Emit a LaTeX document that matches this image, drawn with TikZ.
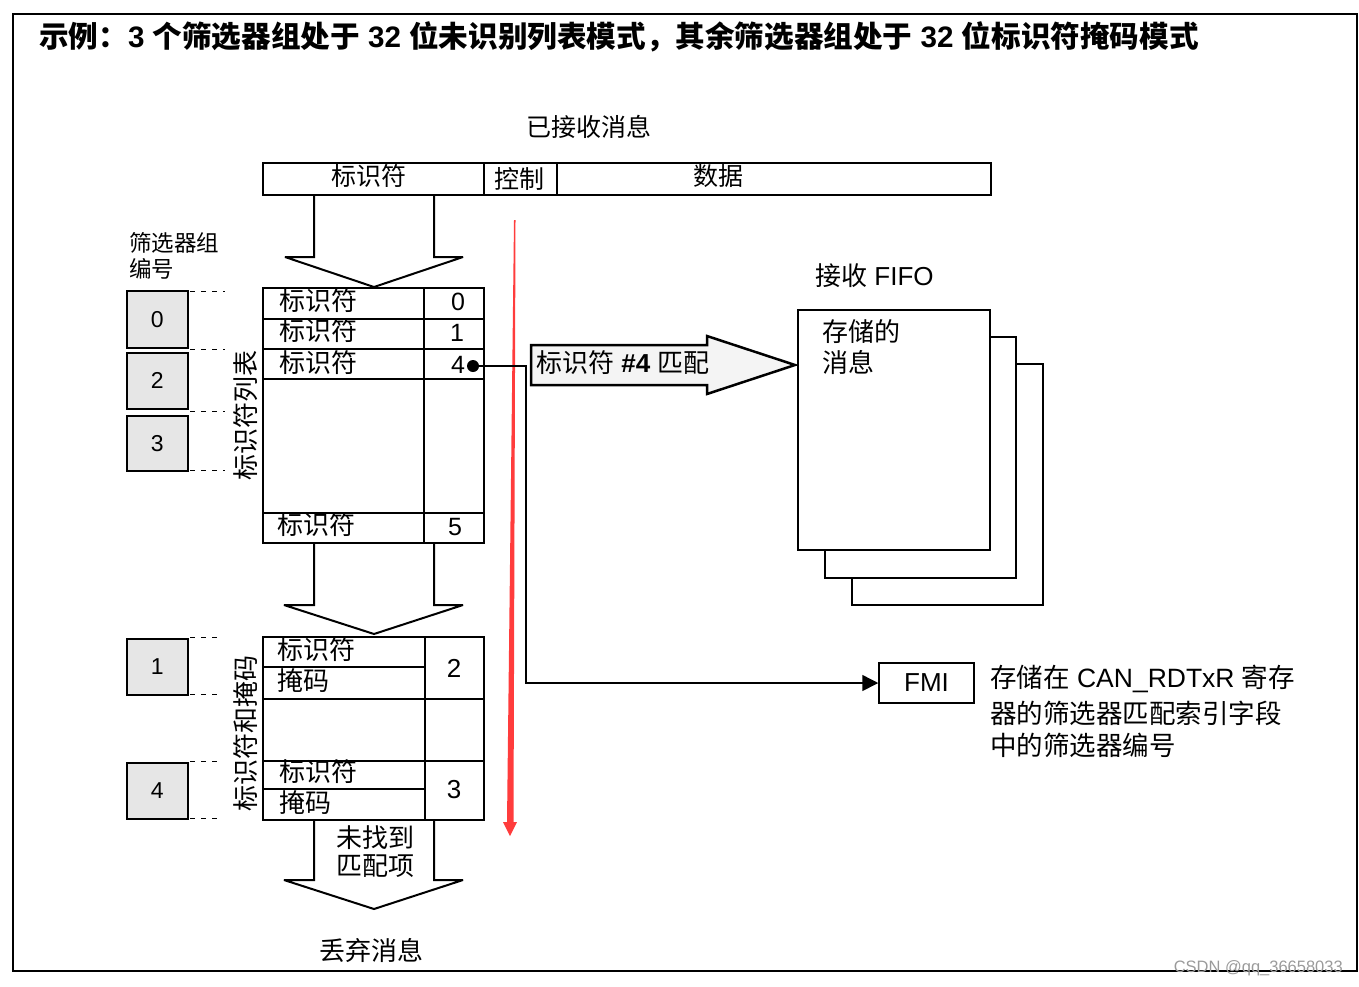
\documentclass[tikz,border=0pt]{standalone}
\usepackage{fontspec}
\setmainfont{Liberation Sans}
\newfontfamily\cjk{Noto Sans CJK SC}
\newcommand{\zh}[1]{{\cjk #1}}
\usetikzlibrary{arrows.meta}
\definecolor{boxgray}{HTML}{E6E6E6}
\definecolor{arrowgray}{HTML}{F4F4F4}
\definecolor{redline}{HTML}{FF3C3C}
\definecolor{wmgray}{HTML}{9A9A9A}
\begin{document}
\begin{tikzpicture}[x=1pt,y=-1pt,
  txt/.style={inner sep=0pt, font=\fontsize{26}{30}\selectfont},
  numtxt/.style={inner sep=0pt, font=\fontsize{25}{28}\selectfont},
  gbox/.style={draw, line width=1.5pt, fill=boxgray, inner sep=0pt, anchor=north west,
    minimum width=61pt, font=\fontsize{23}{28}\selectfont},
  tbl/.style={line width=2.5pt},
  blockarrow/.style={line width=2pt, line join=miter, miter limit=2},
  dashl/.style={line width=1pt, dash pattern=on 5pt off 6pt},
  fifo/.style={draw, line width=2.5pt, fill=white}
]
\useasboundingbox (0,0) rectangle (1359,986);
% outer frame
\draw[line width=2pt] (13,14) rectangle (1357,971);
% title
\node[anchor=west, inner sep=0pt, font=\fontsize{29.6}{34}\selectfont\bfseries] (title) at (39,37)
  {\zh{示例：}3 \zh{个筛选器组处于} 32 \zh{位未识别列表模式，其余筛选器组处于} 32 \zh{位标识符掩码模式}};

% received message
\node[txt, font=\fontsize{25}{30}\selectfont] (rx) at (589,127) {\zh{已接收消息}};
\draw[tbl] (263,163) rectangle (991,195);
\draw[tbl] (484,163) -- (484,195);
\draw[tbl] (557,163) -- (557,195);
\node[txt, font=\fontsize{25}{30}\selectfont] (bid) at (369,176) {\zh{标识符}};
\node[txt, font=\fontsize{25}{30}\selectfont] (bctl) at (519,179) {\zh{控制}};
\node[txt, font=\fontsize{25}{30}\selectfont] (bdat) at (718,176) {\zh{数据}};

% block arrow 1
\draw[blockarrow] (314,195) -- (314,257) -- (285,257) -- (374,287) -- (463,257) -- (434,257) -- (434,195);

% filter group label
\node[txt, font=\fontsize{22.5}{26}\selectfont, anchor=west] (fgl1) at (129,243) {\zh{筛选器组}};
\node[txt, font=\fontsize{22.5}{26}\selectfont, anchor=west] (fgl2) at (129,269) {\zh{编号}};

% gray filter boxes
\node[gbox, minimum height=57pt] (g0) at (126,290) {0};
\node[gbox, minimum height=56pt] (g2) at (126,352) {2};
\node[gbox, minimum height=55pt] (g3) at (126,415) {3};
\node[gbox, minimum height=56pt] (g1) at (126,638) {1};
\node[gbox, minimum height=56pt] (g4) at (126,762) {4};

% dashed guides
\draw[dashl] (190,291) -- (225,291);
\draw[dashl] (190,349) -- (225,349);
\draw[dashl] (190,411) -- (225,411);
\draw[dashl] (190,470) -- (225,470);
\draw[dashl] (190,637) -- (222,637);
\draw[dashl] (190,694) -- (222,694);
\draw[dashl] (190,761) -- (222,761);
\draw[dashl] (190,818) -- (222,818);

% identifier list table
\draw[tbl] (263,288) rectangle (484,543);
\draw[tbl] (424,288) -- (424,543);
\draw[tbl] (263,319) -- (484,319);
\draw[tbl] (263,349) -- (484,349);
\draw[tbl] (263,379) -- (484,379);
\draw[tbl] (263,513) -- (484,513);
\node[txt, anchor=west] (l0) at (279,301) {\zh{标识符}};
\node[txt, anchor=west] (l1) at (279,331) {\zh{标识符}};
\node[txt, anchor=west] (l2) at (279,363) {\zh{标识符}};
\node[txt, anchor=west] (l5) at (277,525) {\zh{标识符}};
\node[numtxt] (n0) at (458,302) {0};
\node[numtxt] (n1) at (457,333) {1};
\node[numtxt] (n4) at (458,365) {4};
\node[numtxt] (n5) at (455,527) {5};
\node[circle, fill=black, inner sep=0pt, minimum size=12pt] (dot) at (473,366) {};
\node[txt, rotate=90] (listlab) at (246,415) {\zh{标识符列表}};

% block arrow 2
\draw[blockarrow] (314,543) -- (314,605) -- (284,605) -- (374,634) -- (463,605) -- (434,605) -- (434,543);

% identifier/mask table
\draw[tbl] (263,637) rectangle (484,820);
\draw[tbl] (425,637) -- (425,820);
\draw[tbl] (263,667) -- (425,667);
\draw[tbl] (263,699) -- (484,699);
\draw[tbl] (263,761) -- (484,761);
\draw[tbl] (263,789) -- (425,789);
\node[txt, anchor=west] (m1) at (277,650) {\zh{标识符}};
\node[txt, anchor=west] (m2) at (277,681) {\zh{掩码}};
\node[txt, anchor=west] (m3) at (279,772) {\zh{标识符}};
\node[txt, anchor=west] (m4) at (279,803) {\zh{掩码}};
\node[numtxt, font=\fontsize{26}{28}\selectfont] (n2) at (454,668) {2};
\node[numtxt, font=\fontsize{26}{28}\selectfont] (n3) at (454,790) {3};
\node[txt, rotate=90] (masklab) at (246,733) {\zh{标识符和掩码}};

% block arrow 3
\draw[blockarrow] (314,820) -- (314,880) -- (284,880) -- (374,909) -- (463,880) -- (434,880) -- (434,820);
\node[txt] (nf1) at (375,838) {\zh{未找到}};
\node[txt] (nf2) at (375,866) {\zh{匹配项}};
\node[txt] (drop) at (371,950) {\zh{丢弃消息}};

% red arrow
\fill[redline] (514,220) -- (515.5,220) -- (513.5,822) -- (517,822) -- (510,836) -- (503,822) -- (507,822) -- cycle;

% match arrow
\draw[line width=2.5pt, fill=arrowgray, line join=miter] (531,345) -- (707,345) -- (707,336) -- (795,365) -- (707,394) -- (707,385) -- (531,385) -- cycle;
\node[txt, anchor=west] (match) at (536,363) {\zh{标识符} \textbf{\#4} \zh{匹配}};

% FIFO
\node[txt, anchor=west, inner sep=0pt] (fifolab) at (815,276) {\zh{接收} FIFO};
\draw[fifo] (852,364) rectangle (1043,605);
\draw[fifo] (825,337) rectangle (1016,578);
\draw[fifo] (798,310) rectangle (990,550);
\node[txt, anchor=west] (st1) at (822,332) {\zh{存储的}};
\node[txt, anchor=west] (st2) at (822,362) {\zh{消息}};

% FMI
\node[draw, line width=1.5pt, minimum width=95pt, minimum height=40pt, inner sep=0pt,
  font=\fontsize{26}{30}\selectfont] (fmi) at (926.5,683) {FMI};
\draw[line width=1.5pt, -{Triangle[length=16pt,width=16pt]}] (dot.center) -- (526,366) |- (fmi.west);
\node[txt, font=\fontsize{26.5}{30}\selectfont, anchor=west] (d1) at (990,679) {\zh{存储在} CAN\_RDTxR \zh{寄存}};
\node[txt, font=\fontsize{26.5}{30}\selectfont, anchor=west] (d2) at (990,713) {\zh{器的筛选器匹配索引字段}};
\node[txt, font=\fontsize{26.5}{30}\selectfont, anchor=west] (d3) at (990,745) {\zh{中的筛选器编号}};

% watermark
\node[inner sep=0pt, anchor=east, text=wmgray, font=\fontsize{16.5}{18}\selectfont] (wm) at (1343,968) {CSDN @qq\_36658033};
\end{tikzpicture}
\end{document}
